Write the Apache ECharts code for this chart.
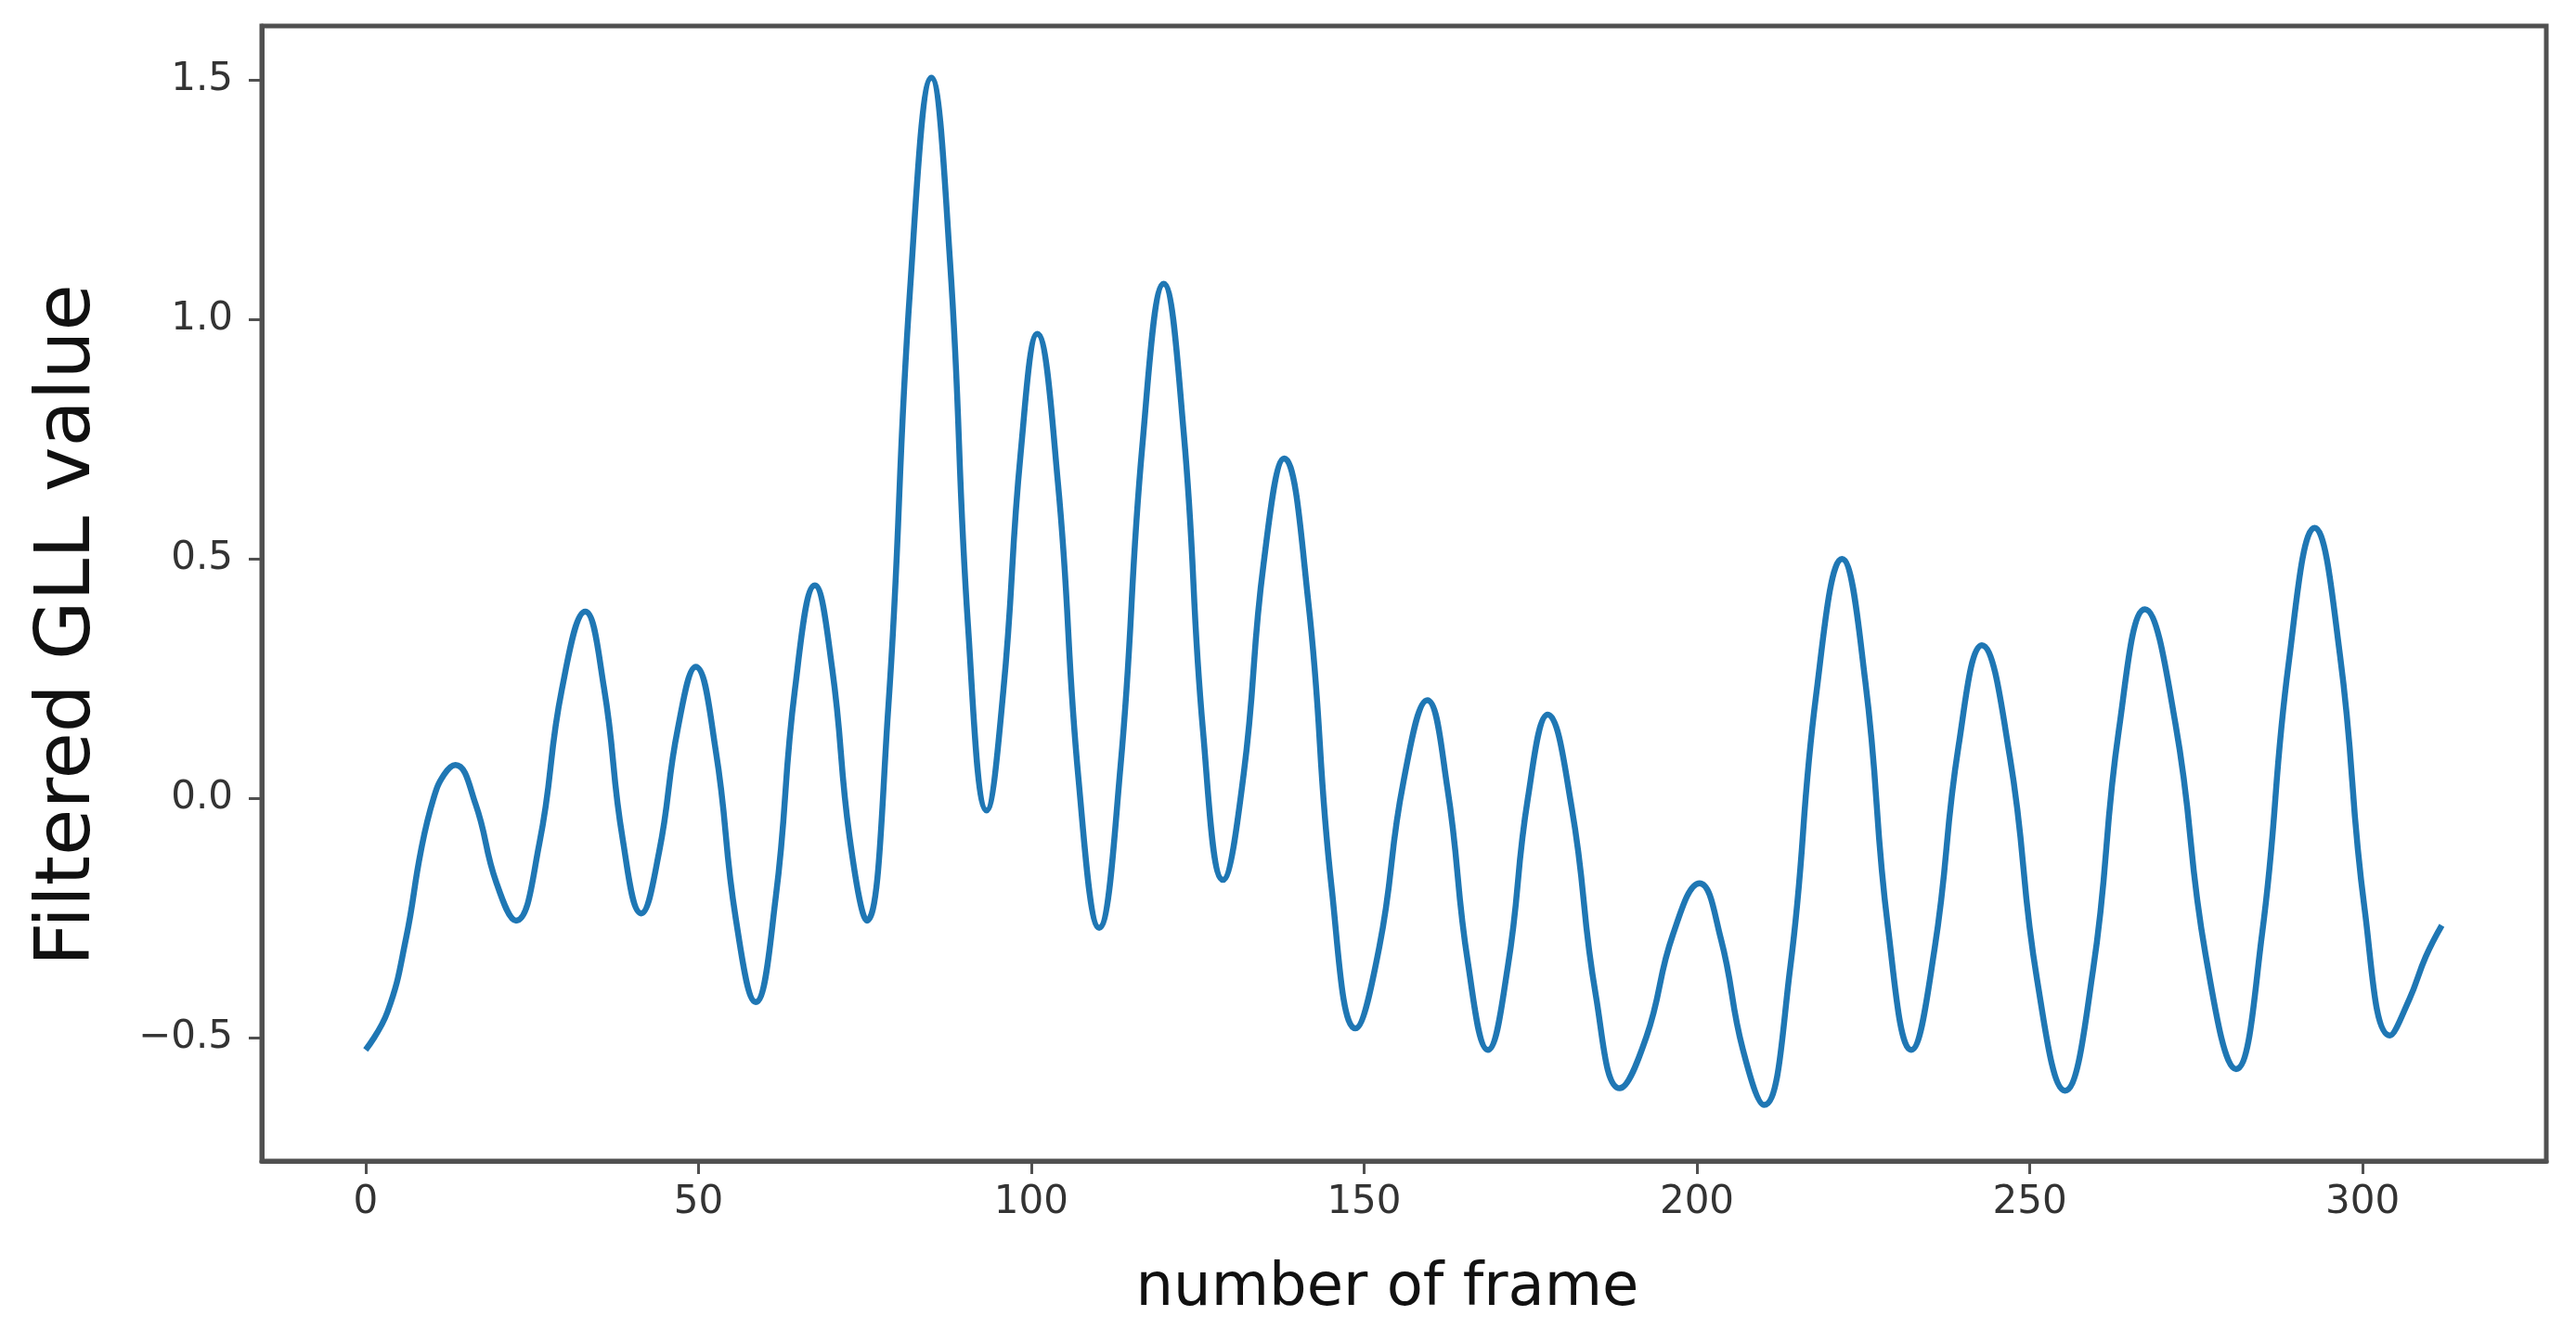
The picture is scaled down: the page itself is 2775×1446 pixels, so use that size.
<!DOCTYPE html>
<html>
<head>
<meta charset="utf-8">
<script src="https://cdn.jsdelivr.net/npm/echarts@6/dist/echarts.min.js"></script>
<style>
html,body{margin:0;padding:0;background:#ffffff;}
#chart{width:2775px;height:1446px;}
</style>
</head>
<body>
<div id="chart"></div>
<script>
// ---- data ----
const frameX = [
  0, 3.3, 6.1, 8.3, 10.2, 11.8, 13.5, 16.5, 19.6, 22.6,
  26.1, 29.5, 33.0, 35.8, 38.6, 41.4, 44.1, 46.9, 49.6, 52.6,
  55.6, 58.6, 61.6, 64.5, 67.5, 70.1, 72.7, 75.3, 78.5, 81.8,
  85.0, 87.8, 90.5, 93.3, 95.8, 98.4, 100.9, 104.0, 107.1, 110.2,
  113.4, 116.7, 119.9, 122.9, 125.8, 128.8, 131.9, 134.9, 138.0, 141.6,
  145.1, 148.7, 152.3, 155.9, 159.5, 162.5, 165.6, 168.6, 171.6, 174.6,
  177.6, 181.2, 184.8, 188.4, 192.4, 196.4, 200.4, 203.6, 206.9, 210.1,
  214.0, 217.9, 221.8, 225.3, 228.7, 232.2, 235.7, 239.3, 242.8, 247.0,
  251.1, 255.3, 259.5, 263.4, 267.3, 271.9, 276.4, 281.0, 284.9, 288.9,
  292.8, 296.6, 300.3, 304.1, 307.0, 309.5, 311.9
];
const gllValue = [
  -0.525, -0.445, -0.29, -0.11, 0.0, 0.05, 0.07, -0.011, -0.174, -0.255,
  -0.094, 0.229, 0.39, 0.232, -0.083, -0.24, -0.111, 0.146, 0.275, 0.10,
  -0.25, -0.425, -0.208, 0.228, 0.445, 0.27, -0.08, -0.255, 0.185, 1.065,
  1.505, 1.12, 0.36, -0.025, 0.224, 0.72, 0.97, 0.66, 0.04, -0.27,
  0.066, 0.739, 1.075, 0.764, 0.141, -0.17, 0.05, 0.49, 0.71, 0.413,
  -0.183, -0.48, -0.309, 0.034, 0.205, 0.023, -0.343, -0.525, -0.35, 0.0,
  0.175, -0.02, -0.41, -0.605, -0.498, -0.284, -0.177, -0.293, -0.524, -0.64,
  -0.355, 0.215, 0.50, 0.244, -0.269, -0.525, -0.314, 0.109, 0.32, 0.088,
  -0.378, -0.61, -0.359, 0.144, 0.395, 0.155, -0.325, -0.565, -0.283, 0.283,
  0.565, 0.30, -0.23, -0.495, -0.42, -0.33, -0.265
];
const xTickValues = [0, 50, 100, 150, 200, 250, 300];
const yTickValues = [-0.5, 0.0, 0.5, 1.0, 1.5];
const xAxisTitle = 'number of frame';
const yAxisTitle = 'Filtered GLL value';

const seriesData = frameX.map((x, i) => [x, gllValue[i]]);
const frameColor = '#505050';

const chart = echarts.init(document.getElementById('chart'), null, {renderer: 'canvas'});
chart.setOption({
  animation: false,
  backgroundColor: '#ffffff',
  grid: {
    left: 282, right: 32, top: 28, bottom: 195,
    show: true, borderColor: frameColor, borderWidth: 5,
    outerBoundsMode: 'none', containLabel: false
  },
  xAxis: {
    type: 'value',
    min: -15.6, max: 327.6,
    name: xAxisTitle,
    nameLocation: 'middle',
    nameGap: 106,
    nameTextStyle: {fontFamily: 'DejaVu Sans', fontSize: 64, color: '#111111',
                    padding: [0, 36, 0, 0]},
    axisLine: {show: true, onZero: false, lineStyle: {color: frameColor, width: 5}},
    axisTick: {show: true, inside: false, length: 14, customValues: xTickValues,
               lineStyle: {color: frameColor, width: 3}},
    axisLabel: {show: true, margin: 24, customValues: xTickValues,
                fontFamily: 'DejaVu Sans', fontSize: 42, color: '#333333',
                formatter: v => String(v)},
    splitLine: {show: false}
  },
  yAxis: {
    type: 'value',
    min: -0.757, max: 1.613,
    name: yAxisTitle,
    nameLocation: 'middle',
    nameGap: 166,
    nameRotate: 90,
    nameTextStyle: {fontFamily: 'DejaVu Sans', fontSize: 82, color: '#111111',
                    padding: [0, 68, 0, 0]},
    axisLine: {show: true, onZero: false, lineStyle: {color: frameColor, width: 5}},
    axisTick: {show: true, inside: false, length: 14, customValues: yTickValues,
               lineStyle: {color: frameColor, width: 3}},
    axisLabel: {show: true, margin: 31, customValues: yTickValues,
                fontFamily: 'DejaVu Sans', fontSize: 42, color: '#333333',
                formatter: v => (v < 0 ? '\u2212' : '') + Math.abs(v).toFixed(1)},
    splitLine: {show: false}
  },
  series: [{
    type: 'line',
    data: seriesData,
    showSymbol: false,
    smooth: 0.45,
    lineStyle: {color: '#1f77b4', width: 6.5},
    itemStyle: {color: '#1f77b4'}
  }]
});
</script>
</body>
</html>
